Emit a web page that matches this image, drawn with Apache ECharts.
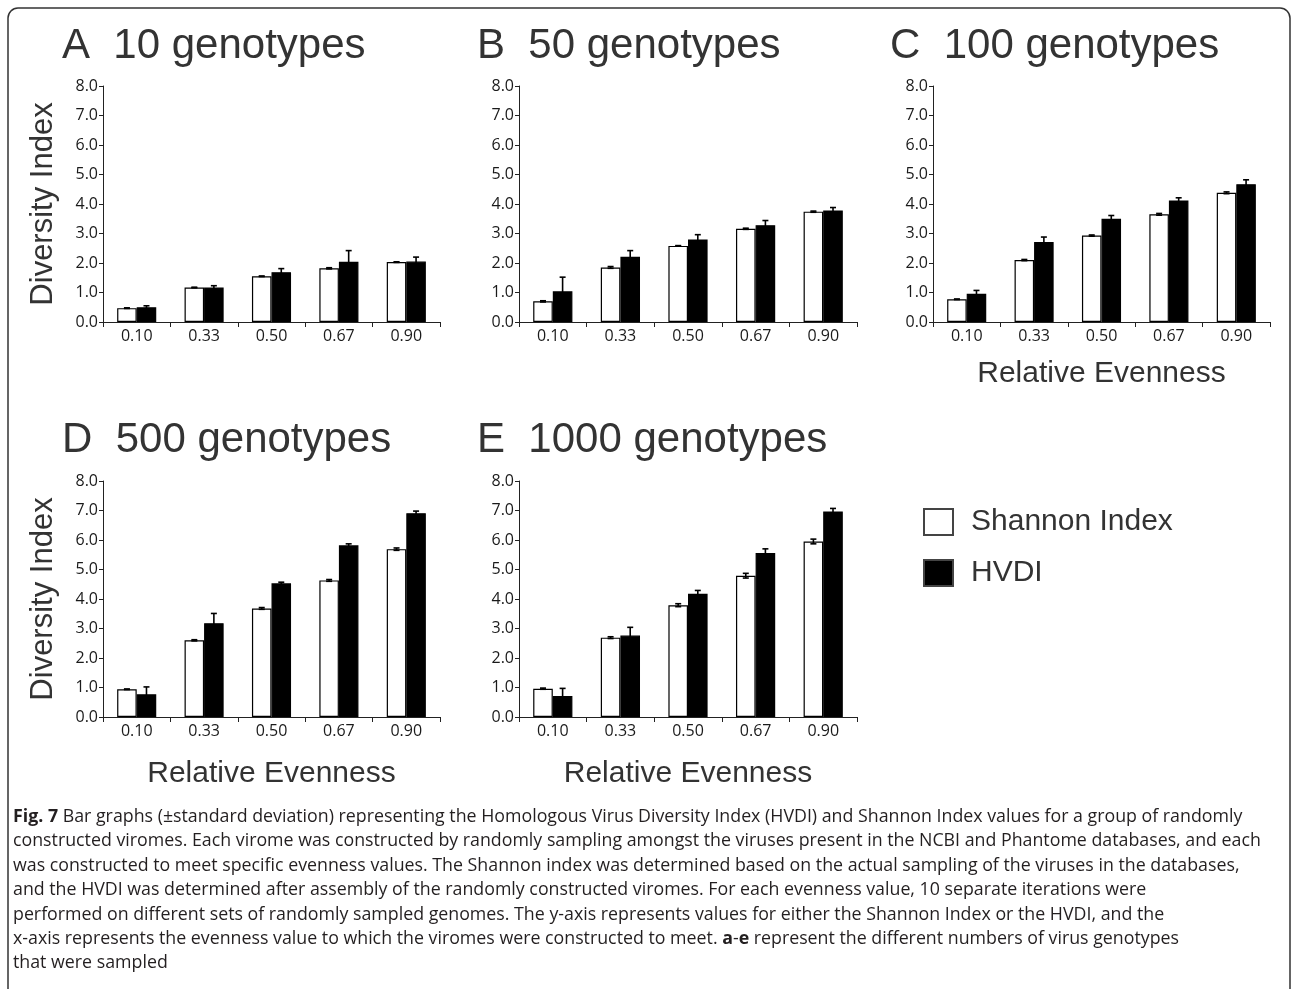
<!DOCTYPE html>
<html>
<head>
<meta charset="utf-8">
<script src="https://cdn.jsdelivr.net/npm/echarts@6/dist/echarts.min.js"></script>
<style>
  html, body { margin: 0; padding: 0; background: #fff; }
  #chart { width: 1292px; height: 989px; }
</style>
</head>
<body>
<div id="chart"></div>
<script>
// Relative evenness categories (x axis)
const evenness = ['0.10', '0.33', '0.50', '0.67', '0.90'];

// A: 10 genotypes
const shannonA   = [0.47, 1.17, 1.55, 1.82, 2.03];
const shannonSdA = [0.01, 0.01, 0.01, 0.02, 0.01];
const hvdiA      = [0.50, 1.17, 1.69, 2.04, 2.05];
const hvdiSdA    = [0.05, 0.06, 0.12, 0.38, 0.15];

// B: 50 genotypes
const shannonB   = [0.70, 1.85, 2.58, 3.16, 3.74];
const shannonSdB = [0.02, 0.03, 0.01, 0.02, 0.02];
const hvdiB      = [1.04, 2.21, 2.80, 3.28, 3.78];
const hvdiSdB    = [0.48, 0.21, 0.16, 0.16, 0.10];

// C: 100 genotypes
const shannonC   = [0.77, 2.10, 2.93, 3.65, 4.38];
const shannonSdC = [0.01, 0.02, 0.02, 0.03, 0.03];
const hvdiC      = [0.96, 2.71, 3.50, 4.12, 4.67];
const hvdiSdC    = [0.11, 0.17, 0.11, 0.09, 0.15];

// D: 500 genotypes
const shannonD   = [0.94, 2.60, 3.68, 4.63, 5.69];
const shannonSdD = [0.01, 0.02, 0.03, 0.03, 0.04];
const hvdiD      = [0.77, 3.18, 4.53, 5.82, 6.91];
const hvdiSdD    = [0.25, 0.33, 0.04, 0.05, 0.07];

// E: 1000 genotypes
const shannonE   = [0.96, 2.69, 3.79, 4.79, 5.95];
const shannonSdE = [0.02, 0.03, 0.05, 0.08, 0.08];
const hvdiE      = [0.71, 2.76, 4.18, 5.56, 6.97];
const hvdiSdE    = [0.26, 0.28, 0.11, 0.14, 0.10];

const panelTitles = ['A  10 genotypes', 'B  50 genotypes', 'C  100 genotypes',
                     'D  500 genotypes', 'E  1000 genotypes'];

const captionLines = [
  '{b|Fig. 7} Bar graphs (±standard deviation) representing the Homologous Virus Diversity Index (HVDI) and Shannon Index values for a group of randomly',
  'constructed viromes. Each virome was constructed by randomly sampling amongst the viruses present in the NCBI and Phantome databases, and each',
  'was constructed to meet specific evenness values. The Shannon index was determined based on the actual sampling of the viruses in the databases,',
  'and the HVDI was determined after assembly of the randomly constructed viromes. For each evenness value, 10 separate iterations were',
  'performed on different sets of randomly sampled genomes. The y-axis represents values for either the Shannon Index or the HVDI, and the',
  'x-axis represents the evenness value to which the viromes were constructed to meet. {b|a}-{b|e} represent the different numbers of virus genotypes',
  'that were sampled'
];

const panelData = [
  { shannon: shannonA, shannonSd: shannonSdA, hvdi: hvdiA, hvdiSd: hvdiSdA },
  { shannon: shannonB, shannonSd: shannonSdB, hvdi: hvdiB, hvdiSd: hvdiSdB },
  { shannon: shannonC, shannonSd: shannonSdC, hvdi: hvdiC, hvdiSd: hvdiSdC },
  { shannon: shannonD, shannonSd: shannonSdD, hvdi: hvdiD, hvdiSd: hvdiSdD },
  { shannon: shannonE, shannonSd: shannonSdE, hvdi: hvdiE, hvdiSd: hvdiSdE }
];

// Plot areas and per-panel decorations
const layout = [
  { left: 103, top: 86,  width: 337, height: 236, yName: true,  xName: false, tx: 62,  ty: 25 },
  { left: 519, top: 86,  width: 338, height: 236, yName: false, xName: false, tx: 477, ty: 25 },
  { left: 933, top: 86,  width: 337, height: 236, yName: false, xName: true,  xGap: 37, tx: 890, ty: 25 },
  { left: 103, top: 481, width: 337, height: 236, yName: true,  xName: true,  xGap: 42, tx: 62,  ty: 419 },
  { left: 519, top: 481, width: 338, height: 236, yName: false, xName: true,  xGap: 42, tx: 477, ty: 419 }
];

const BAR_FRAC = 0.29;
const SANS = 'Liberation Sans, Arial, sans-serif';
const TICK_FONT = 'Open Sans, sans-serif';
const CAPTION_FONT = 'Open Sans, sans-serif';

function errorBar(params, api) {
  const k = api.value(0), v = api.value(1), e = api.value(2), side = api.value(3);
  const band = api.size([1, 0])[0];
  const x = api.coord([k, v])[0] + side * band * BAR_FRAC / 2;
  const yTop = api.coord([k, v + e])[1];
  const yBot = api.coord([k, v - e])[1];
  const cap = 3;
  const st = { stroke: '#000', lineWidth: 1.6 };
  return {
    type: 'group',
    children: [
      { type: 'line', shape: { x1: x, y1: yTop, x2: x, y2: yBot }, style: st },
      { type: 'line', shape: { x1: x - cap, y1: yTop, x2: x + cap, y2: yTop }, style: st },
      { type: 'line', shape: { x1: x - cap, y1: yBot, x2: x + cap, y2: yBot }, style: st }
    ]
  };
}

const grids = [], xAxes = [], yAxes = [], series = [], titles = [];

layout.forEach((L, i) => {
  const d = panelData[i];
  grids.push({ left: L.left, top: L.top, width: L.width, height: L.height, outerBoundsMode: 'none' });
  xAxes.push({
    type: 'category', gridIndex: i, data: evenness,
    axisLine: { show: true, lineStyle: { color: '#222', width: 1 } },
    axisTick: { show: true, interval: 0, length: 5, alignWithLabel: false, lineStyle: { color: '#222' } },
    axisLabel: { interval: 0, margin: 6, fontSize: 16, color: '#1a1a1a', fontFamily: TICK_FONT },
    splitLine: { show: false },
    name: L.xName ? 'Relative Evenness' : '',
    nameLocation: 'middle', nameGap: L.xGap || 30,
    nameTextStyle: { fontSize: 30, color: '#333', fontFamily: SANS }
  });
  yAxes.push({
    type: 'value', gridIndex: i, min: 0, max: 8, interval: 1,
    axisLine: { show: true, lineStyle: { color: '#222', width: 1 } },
    axisTick: { show: true, length: 4, lineStyle: { color: '#222' } },
    axisLabel: { margin: 5, fontSize: 16, color: '#1a1a1a', fontFamily: TICK_FONT,
                 formatter: v => v.toFixed(1) },
    splitLine: { show: false },
    name: L.yName ? 'Diversity Index' : '',
    nameLocation: 'middle', nameGap: 44,
    nameTextStyle: { fontSize: 31, color: '#333', fontFamily: SANS }
  });
  series.push({
    type: 'bar', name: 'Shannon Index', xAxisIndex: i, yAxisIndex: i,
    data: d.shannon, barWidth: (BAR_FRAC * 100) + '%', barGap: '0%',
    itemStyle: { color: '#fff', borderColor: '#000', borderWidth: 1.2 },
    emphasis: { disabled: true }
  });
  series.push({
    type: 'bar', name: 'HVDI', xAxisIndex: i, yAxisIndex: i,
    data: d.hvdi, barWidth: (BAR_FRAC * 100) + '%', barGap: '0%',
    itemStyle: { color: '#000', borderColor: '#000', borderWidth: 1.2 },
    emphasis: { disabled: true }
  });
  series.push({
    type: 'custom', name: 'sd-shannon-' + i, xAxisIndex: i, yAxisIndex: i, z: 5,
    renderItem: errorBar, data: d.shannon.map((v, k) => [k, v, d.shannonSd[k], -1])
  });
  series.push({
    type: 'custom', name: 'sd-hvdi-' + i, xAxisIndex: i, yAxisIndex: i, z: 5,
    renderItem: errorBar, data: d.hvdi.map((v, k) => [k, v, d.hvdiSd[k], 1])
  });
  titles.push({
    text: panelTitles[i], left: L.tx, top: L.ty, padding: 0,
    textStyle: { fontSize: 42, fontWeight: 'normal', color: '#333', fontFamily: SANS }
  });
});

const graphics = [
  { type: 'rect', shape: { x: 8, y: 8, width: 1282, height: 1010, r: 10 },
    style: { fill: 'none', stroke: '#333', lineWidth: 1.5 }, silent: true, z: -1 }
];
captionLines.forEach((line, k) => {
  graphics.push({
    type: 'text', left: 13, top: 808 + k * 24.4, silent: true,
    style: {
      text: line, fill: '#231f20', fontSize: 17.8, fontFamily: CAPTION_FONT,
      rich: { b: { fontWeight: 'bold', fontSize: 17.8, fontFamily: CAPTION_FONT, fill: '#231f20' } }
    }
  });
});

const chart = echarts.init(document.getElementById('chart'), null, { renderer: 'canvas' });
chart.setOption({
  backgroundColor: '#fff',
  animation: false,
  title: titles,
  legend: {
    orient: 'vertical', left: 923, top: 507, padding: 0,
    itemWidth: 29, itemHeight: 26, itemGap: 21, icon: 'rect',
    selectedMode: false,
    textStyle: { fontSize: 30, color: '#333', fontFamily: SANS, padding: [0, 0, 0, 13] },
    data: [
      { name: 'Shannon Index', itemStyle: { color: '#fff', borderColor: '#444', borderWidth: 2 } },
      { name: 'HVDI', itemStyle: { color: '#000', borderColor: '#444', borderWidth: 2 } }
    ]
  },
  grid: grids,
  xAxis: xAxes,
  yAxis: yAxes,
  series: series,
  graphic: graphics
});
</script>
</body>
</html>
